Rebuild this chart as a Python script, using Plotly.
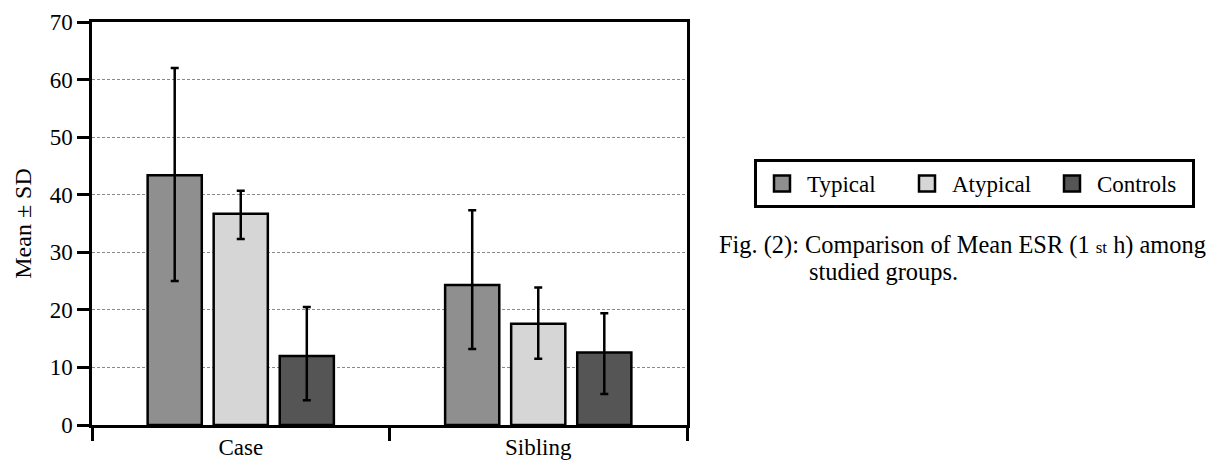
import plotly.graph_objects as go

categories = ["Case", "Sibling"]
series_names = ["Typical", "Atypical", "Controls"]
means = {
    "Typical": [43.4, 24.3],
    "Atypical": [36.7, 17.6],
    "Controls": [12.0, 12.6],
}
err_plus = {
    "Typical": [18.6, 13.0],
    "Atypical": [4.0, 6.3],
    "Controls": [8.5, 6.8],
}
err_minus = {
    "Typical": [18.4, 11.1],
    "Atypical": [4.4, 6.1],
    "Controls": [7.7, 7.2],
}
colors = {"Typical": "#8f8f8f", "Atypical": "#d6d6d6", "Controls": "#555555"}
y_ticks = [0, 10, 20, 30, 40, 50, 60, 70]

FONT = "Liberation Serif"

fig = go.Figure()
for name in series_names:
    fig.add_trace(go.Bar(
        x=categories, y=means[name], name=name,
        marker=dict(color=colors[name], line=dict(color="black", width=2.5)),
        error_y=dict(type="data", array=err_plus[name], arrayminus=err_minus[name],
                     color="black", thickness=2.5, width=4),
        showlegend=False,
    ))
# legend proxies (larger swatches than bar legend symbols)
for name in series_names:
    fig.add_trace(go.Scatter(
        x=[None], y=[None], mode="markers", name=name,
        marker=dict(symbol="square", size=20, color=colors[name],
                    line=dict(color="black", width=2.5)),
        showlegend=True,
    ))

fig.update_layout(
    width=1207, height=467,
    margin=dict(l=92, r=520, t=22, b=42),
    paper_bgcolor="white", plot_bgcolor="white",
    barmode="group", bargap=0.334, bargroupgap=0.18,
    font=dict(family=FONT, size=23, color="black"),
    legend=dict(
        orientation="h", x=1.1126, y=0.66, xanchor="left", yanchor="top",
        bordercolor="black", borderwidth=3, bgcolor="white",
        font=dict(size=23, family=FONT),
        itemwidth=40,
        entrywidth=90, entrywidthmode="pixels",
        traceorder="normal",
    ),
    annotations=[
        dict(text="Fig. (2): Comparison of Mean ESR (1 <span style='font-size:17px'>st</span> h) among",
             xref="paper", yref="paper", x=1.0504, y=0.4467, xanchor="left", yanchor="middle",
             showarrow=False, font=dict(size=24.4, family=FONT)),
        dict(text="studied groups.",
             xref="paper", yref="paper", x=1.2017, y=0.3821, xanchor="left", yanchor="middle",
             showarrow=False, font=dict(size=24.4, family=FONT)),
    ],
)
fig.update_xaxes(
    showline=True, linecolor="black", linewidth=2.5, mirror=True,
    ticks="outside", tickson="boundaries", ticklen=13, tickwidth=2.5, tickcolor="black",
    showgrid=False, tickfont=dict(size=23), automargin=False,
)
fig.update_yaxes(
    range=[0, 70], tickvals=y_ticks,
    showline=True, linecolor="black", linewidth=2.5, mirror=True,
    ticks="outside", ticklen=12, tickwidth=2.5, tickcolor="black",
    showgrid=True, gridcolor="#8a8a8a", gridwidth=1, griddash="3px,2px",
    zeroline=False, tickfont=dict(size=23), automargin=False,
    title=dict(text="Mean ± SD", font=dict(size=24), standoff=12),
)
fig.write_html("out.html")
